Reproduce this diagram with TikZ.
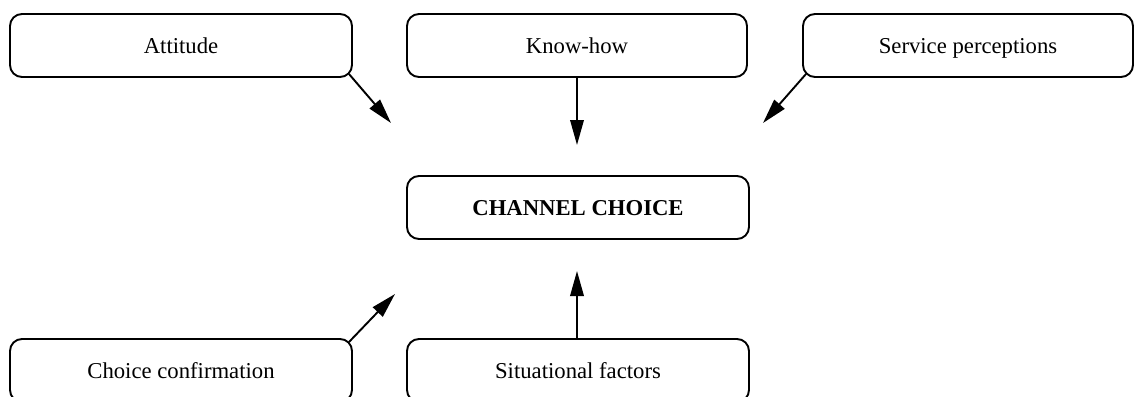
\documentclass[tikz,border=0pt]{standalone}
\usepackage{fontspec}
\setmainfont{Liberation Serif}
\usetikzlibrary{arrows.meta}
\begin{document}
\begin{tikzpicture}[x=1pt,y=1pt,
  factor/.style={draw=black, line width=1.9pt, rounded corners=12pt,
    minimum height=63pt, inner sep=0pt, text height=18pt, text depth=2pt,
    font=\fontsize{22.7}{27}\selectfont},
  link/.style={line width=1.9pt, -{Triangle[length=25pt,width=13.5pt]}}]
\useasboundingbox (0,0) rectangle (1134,-396);
\clip (0,0) rectangle (1134,-396);
% top row of factors
\node[factor, minimum width=342pt] (att) at (181,-45.5) {Attitude};
\node[factor, minimum width=340pt] (know) at (577,-45.5) {Know-how};
\node[factor, minimum width=330pt] (serv) at (968,-45.5) {Service perceptions};
% central outcome
\node[factor, minimum width=342pt, font=\fontsize{22.7}{27}\selectfont\bfseries] (choice) at (578,-207.5) {CHANNEL CHOICE};
% bottom row of factors
\node[factor, minimum width=342pt] (conf) at (181,-370.5) {Choice confirmation};
\node[factor, minimum width=342pt] (sit) at (578,-370.5) {Situational factors};
% arrow tips around the central box
\coordinate (tAtt) at (391,-123);
\coordinate (tKnow) at (577,-145);
\coordinate (tServ) at (763,-123);
\coordinate (tConf) at (395,-294);
\coordinate (tSit) at (577,-271);
\draw[link] ([xshift=-4pt,yshift=4pt]att.south east) -- (tAtt);
\draw[link] (know.south) -- (tKnow);
\draw[link] ([xshift=4pt,yshift=4pt]serv.south west) -- (tServ);
\draw[link] ([xshift=-4pt,yshift=-4pt]conf.north east) -- (tConf);
\draw[link] ([xshift=-1pt]sit.north) -- (tSit);
\end{tikzpicture}
\end{document}
